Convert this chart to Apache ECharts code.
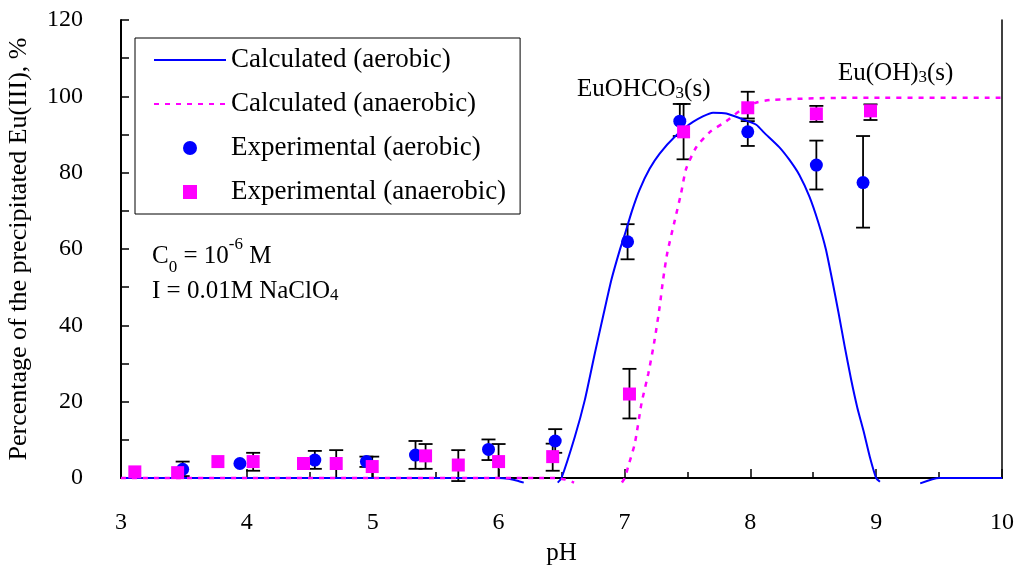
<!DOCTYPE html>
<html>
<head>
<meta charset="utf-8">
<script src="https://cdn.jsdelivr.net/npm/echarts@6/dist/echarts.min.js"></script>
<style>
  html, body { margin: 0; background: #fff; }
  #main { width: 1014px; height: 568px; }
</style>
</head>
<body>
<div id="main"></div>
<script>
// calculated curves [pH, %], null = gap where curve leaves the plot
let calcAerobic = [
  [3.0, 0], [4.0, 0], [5.0, 0], [6.0, 0], [6.08, -0.2], [6.15, -0.7], [6.2, -1.2],
  [6.35, null], [6.47, -1.2], [6.5, 0], [6.606, 10.8], [6.685, 20.4], [6.765, 32.7],
  [6.83, 42.3], [6.897, 52], [6.963, 59.7], [7.0, 63.5], [7.06, 70], [7.12, 75.5],
  [7.2, 81], [7.28, 85], [7.4, 89.4], [7.545, 93.3], [7.704, 95.7], [7.81, 95.5],
  [7.97, 93.6], [8.05, 92.5], [8.11, 90.5], [8.23, 86.7], [8.31, 83.4], [8.39, 79.4],
  [8.47, 73.7], [8.54, 67], [8.6, 60], [8.65, 52], [8.7, 43.5], [8.75, 34.5],
  [8.8, 26], [8.85, 18.5], [8.9, 12.3], [8.95, 5.5], [9.0, 0], [9.03, -1],
  [9.2, null], [9.35, -1.4], [9.5, 0], [10.0, 0]
];
let calcAnaerobic = [
  [3.0, 0], [4.0, 0], [5.0, 0], [6.0, 0], [6.45, 0], [6.53, -0.4], [6.6, -1.2],
  [6.8, null], [6.98, -1.2], [7.003, 0], [7.03, 3], [7.083, 9.1], [7.136, 19.6],
  [7.19, 27.4], [7.24, 36.2], [7.28, 44.9], [7.307, 51.9], [7.34, 58.9], [7.4, 67.5],
  [7.45, 74.6], [7.49, 81], [7.573, 86.8], [7.68, 90.7], [7.81, 93.5], [7.917, 96.2],
  [8.05, 98.4], [8.18, 99.1], [8.71, 99.6], [10.0, 99.6]
];
// experimental [pH, %, low, high]
let expAerobic = [
  [3.49, 2.3, 0.5, 4.3], [3.945, 3.8, null, null], [4.54, 4.7, 2.4, 7.1],
  [4.95, 4.3, 2.9, 5.6], [5.34, 6.0, 2.4, 9.7], [5.92, 7.5, 4.7, 10.1],
  [6.45, 9.7, 6.6, 12.8], [7.025, 61.9, 57.3, 66.5], [7.44, 93.5, 89.6, 98],
  [7.98, 90.7, 87, 93.5], [8.525, 82, 75.6, 88.4], [8.896, 77.4, 65.6, 89.6]
];
let expAnaerobic = [
  [3.11, 1.6, null, null], [3.45, 1.4, null, null], [3.77, 4.3, null, null],
  [4.05, 4.3, 1.9, 6.6], [4.45, 3.8, null, null], [4.71, 3.8, 0, 7.3],
  [4.996, 3.0, 0, 5.6], [5.42, 5.8, 2.4, 8.9], [5.68, 3.4, -0.8, 7.3],
  [6.0, 4.3, 0, 8.9], [6.43, 5.6, 1.9, 9], [7.04, 22, 15.6, 28.6],
  [7.47, 90.7, 83.5, 98], [7.98, 97, 94.2, 101.2], [8.525, 95.4, 93.3, 97.5],
  [8.955, 96.2, 93.8, 97.9]
];
let names = ["Calculated (aerobic)", "Calculated (anaerobic)", "Experimental (aerobic)", "Experimental (anaerobic)"];

let serif = "Liberation Serif";
let myChart = echarts.init(document.getElementById("main"), null, { renderer: "canvas" });

// error bars drawn with a custom series
let errorBars = (points) => ({
  type: "custom",
  data: points.filter((p) => p[2] != null).map((p) => [p[0], p[2], p[3]]),
  encode: { x: 0, y: [1, 2] },
  clip: false,
  silent: true,
  z: 1,
  renderItem: (params, api) => {
    let lo = api.coord([api.value(0), api.value(1)]);
    let hi = api.coord([api.value(0), api.value(2)]);
    let w = 7;
    let st = { stroke: "#000", lineWidth: 1.8 };
    return {
      type: "group",
      children: [
        { type: "line", shape: { x1: lo[0], y1: lo[1], x2: hi[0], y2: hi[1] }, style: st },
        { type: "line", shape: { x1: lo[0] - w, y1: lo[1], x2: lo[0] + w, y2: lo[1] }, style: st },
        { type: "line", shape: { x1: hi[0] - w, y1: hi[1], x2: hi[0] + w, y2: hi[1] }, style: st },
      ],
    };
  },
});

let txt = { fontFamily: serif, fontSize: 25, color: "#000" };
let sub = { fontFamily: serif, fontSize: 17, color: "#000", verticalAlign: "bottom", lineHeight: 20 };
let sup = { fontFamily: serif, fontSize: 17, color: "#000", verticalAlign: "top", lineHeight: 40 };

let option = {
  animation: false,
  grid: { left: 121, right: 12, top: 20, bottom: 90, outerBoundsMode: "none" },
  xAxis: {
    type: "value",
    min: 3,
    max: 10,
    interval: 1,
    name: "pH",
    nameLocation: "middle",
    nameGap: 63,
    nameTextStyle: { fontFamily: serif, fontSize: 25, color: "#000" },
    axisLine: { onZero: false, lineStyle: { color: "#000", width: 2 } },
    axisTick: { inside: true, length: 9, lineStyle: { color: "#000", width: 1.5 } },
    minorTick: { show: true, splitNumber: 2, length: 6, lineStyle: { color: "#000", width: 1.5 } },
    axisLabel: { margin: 33, fontFamily: serif, fontSize: 24, color: "#000" },
    splitLine: { show: false },
  },
  yAxis: [
    {
      type: "value",
      min: 0,
      max: 120,
      interval: 20,
      name: "Percentage of the precipitated Eu(III), %",
      nameLocation: "middle",
      nameGap: 89,
      nameTextStyle: { fontFamily: serif, fontSize: 26, color: "#000" },
      axisLine: { show: true, lineStyle: { color: "#000", width: 2 } },
      axisTick: { inside: true, length: 8, lineStyle: { color: "#000", width: 1.5 } },
      minorTick: { show: true, splitNumber: 2, length: 8, lineStyle: { color: "#000", width: 1.5 } },
      axisLabel: { margin: 38, fontFamily: serif, fontSize: 24, color: "#000" },
      splitLine: { show: false },
    },
    {
      type: "value",
      min: 0,
      max: 120,
      position: "right",
      axisLine: { show: true, lineStyle: { color: "#000", width: 1.5 } },
      axisTick: { show: false },
      axisLabel: { show: false },
      splitLine: { show: false },
    },
  ],
  legend: {
    orient: "vertical",
    left: 135,
    top: 38,
    data: [
      { name: names[0], itemStyle: { opacity: 0 } },
      { name: names[1], itemStyle: { opacity: 0 } },
      { name: names[2], icon: "circle" },
      { name: names[3], icon: "path://M0,0L10,0L10,10L0,10Z" },
    ],
    itemWidth: 72,
    itemHeight: 14,
    itemGap: 14,
    padding: [7, 14, 7, 18],
    borderColor: "#000",
    borderWidth: 1,
    textStyle: { fontFamily: serif, fontSize: 27, color: "#000", lineHeight: 30 },
  },
  graphic: [
    { type: "text", left: 577, top: 77, style: { text: "{a|EuOHCO}{s|3}{a|(s)}", rich: { a: txt, s: sub } } },
    { type: "text", left: 838, top: 61, style: { text: "{a|Eu(OH)}{s|3}{a|(s)}", rich: { a: txt, s: sub } } },
    { type: "text", left: 152, top: 236, style: { text: "{a|C}{s|0}{a| = 10}{p|-6}{a| M}", rich: { a: txt, s: sub, p: sup } } },
    { type: "text", left: 152, top: 279, style: { text: "{a|I = 0.01M NaClO}{s|4}", rich: { a: txt, s: sub } } },
  ],
  series: [
    errorBars(expAerobic),
    errorBars(expAnaerobic),
    {
      name: names[0],
      type: "line",
      data: calcAerobic,
      symbol: "none",
      smooth: 0.2,
      clip: false,
      connectNulls: false,
      lineStyle: { color: "#0000ff", width: 2 },
      itemStyle: { color: "#0000ff" },
      z: 2,
    },
    {
      name: names[1],
      type: "line",
      data: calcAnaerobic,
      symbol: "none",
      smooth: 0.2,
      clip: false,
      connectNulls: false,
      lineStyle: { color: "#ff00ff", width: 2.5, type: [5, 6] },
      itemStyle: { color: "#ff00ff" },
      z: 2,
    },
    {
      name: names[2],
      type: "scatter",
      data: expAerobic.map((p) => [p[0], p[1]]),
      symbol: "circle",
      symbolSize: 13,
      itemStyle: { color: "#0000ff", opacity: 1 },
      z: 3,
    },
    {
      name: names[3],
      type: "scatter",
      data: expAnaerobic.map((p) => [p[0], p[1]]),
      symbol: "rect",
      symbolSize: 13,
      itemStyle: { color: "#ff00ff", opacity: 1 },
      z: 4,
    },
  ],
};

myChart.setOption(option);
</script>
</body>
</html>
